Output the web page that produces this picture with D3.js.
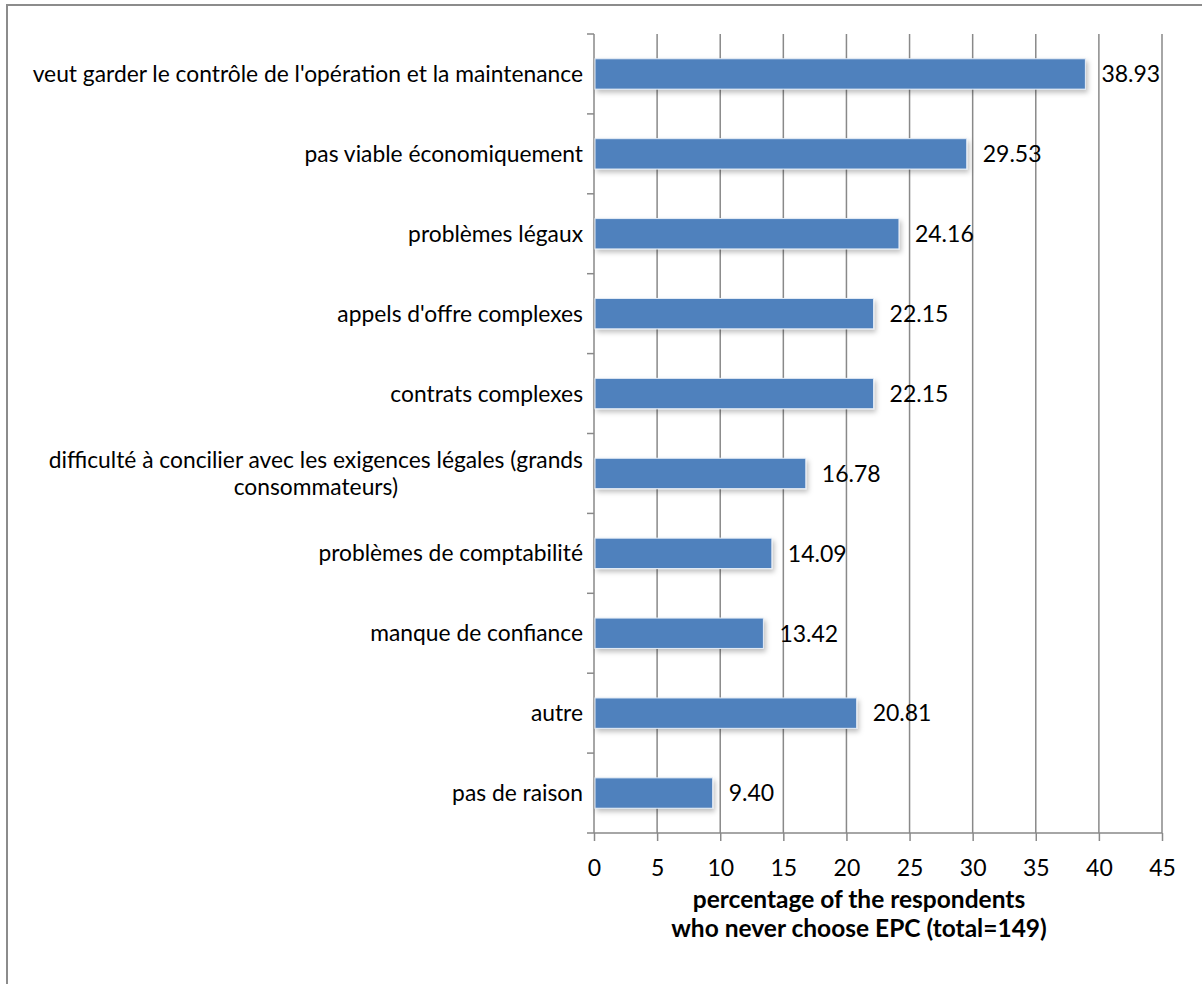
<!DOCTYPE html>
<html>
<head>
<meta charset="utf-8">
<script src="https://cdnjs.cloudflare.com/ajax/libs/d3/7.8.5/d3.min.js"></script>
<style>
  body { margin: 0; background: #fff; }
  svg { display: block; font-family: Lato, 'Open Sans', sans-serif; }
</style>
</head>
<body>
<svg width="1202" height="984"></svg>
<script>
// data
const categories = [
  "veut garder le contrôle de l'opération et la maintenance",
  'pas viable économiquement',
  'problèmes légaux',
  "appels d'offre complexes",
  'contrats complexes',
  'difficulté à concilier avec les exigences légales (grands consommateurs)',
  'problèmes de comptabilité',
  'manque de confiance',
  'autre',
  'pas de raison'
];
const values = [38.93, 29.53, 24.16, 22.15, 22.15, 16.78, 14.09, 13.42, 20.81, 9.40];
const xTicks = [0, 5, 10, 15, 20, 25, 30, 35, 40, 45];
const titleLines = ['percentage of the respondents', 'who never choose EPC (total=149)'];

const data = categories.map((c, i) => ({ cat: c, value: values[i] }));

const svg = d3.select('svg');
const GRID = '#898989';

// outer frame
svg.append('rect')
  .attr('x', 7).attr('y', 5)
  .attr('width', 1220).attr('height', 1000)
  .attr('fill', 'none')
  .attr('stroke', '#8c8c8c')
  .attr('stroke-width', 2);

const plot = { left: 594, right: 1162, top: 34, bottom: 833 };

const x = d3.scaleLinear().domain([0, 45]).range([plot.left, plot.right]);
const y = d3.scaleBand()
  .domain(categories)
  .range([plot.top, plot.bottom])
  .paddingInner(0.62)
  .paddingOuter(0.31);
const yTicks = d3.scaleBand().domain(categories).range([plot.top, plot.bottom]);

// shadow filter
const defs = svg.append('defs');
const f = defs.append('filter').attr('id', 'shadow')
  .attr('x', '-5%').attr('y', '-20%').attr('width', '115%').attr('height', '160%');
f.append('feDropShadow')
  .attr('dx', 2).attr('dy', 3).attr('stdDeviation', 2.5)
  .attr('flood-color', '#000').attr('flood-opacity', 0.25);

// vertical grid
svg.append('g')
  .selectAll('line')
  .data(xTicks.slice(1))
  .join('line')
  .attr('x1', (d) => x(d)).attr('x2', (d) => x(d))
  .attr('y1', plot.top).attr('y2', plot.bottom)
  .attr('stroke', GRID)
  .attr('stroke-width', 1.5);

// x axis
const xAxis = svg.append('g')
  .attr('transform', `translate(0, ${plot.bottom})`)
  .call(d3.axisBottom(x).tickValues(xTicks).tickSize(8).tickSizeOuter(0));
xAxis.select('.domain').remove();
xAxis.append('line')
  .attr('x1', plot.left - 7).attr('x2', plot.right)
  .attr('stroke', GRID).attr('stroke-width', 1.5);
xAxis.selectAll('.tick line').attr('stroke', GRID).attr('stroke-width', 1.5);
xAxis.selectAll('.tick text')
  .attr('fill', '#000')
  .attr('y', 35)
  .attr('dy', '0.35em')
  .style('font-size', '23px')
  .style('font-family', 'Lato, sans-serif');

// y axis line + ticks at band boundaries
const yAxis = svg.append('g');
yAxis.append('line')
  .attr('x1', plot.left).attr('x2', plot.left)
  .attr('y1', plot.top).attr('y2', plot.bottom)
  .attr('stroke', GRID).attr('stroke-width', 1.5);
yAxis.selectAll('.yt')
  .data(categories)
  .join('line')
  .attr('class', 'yt')
  .attr('x1', plot.left - 7).attr('x2', plot.left)
  .attr('y1', (d) => yTicks(d)).attr('y2', (d) => yTicks(d))
  .attr('stroke', GRID).attr('stroke-width', 1.5);

// bars
svg.append('g')
  .selectAll('rect')
  .data(data)
  .join('rect')
  .attr('x', x(0) + 1)
  .attr('y', (d) => y(d.cat))
  .attr('width', (d) => x(d.value) - x(0) - 1)
  .attr('height', y.bandwidth())
  .attr('fill', '#4f81bd')
  .attr('stroke', '#e4ecf6')
  .attr('stroke-width', 1)
  .attr('filter', 'url(#shadow)');

// value labels
svg.append('g')
  .selectAll('text')
  .data(data)
  .join('text')
  .attr('x', (d) => x(d.value) + 16)
  .attr('y', (d) => y(d.cat) + y.bandwidth() / 2)
  .attr('dy', '0.36em')
  .style('font-size', '23px')
  .attr('fill', '#000')
  .text((d) => d.value.toFixed(2));

// category labels (wrapped, centred block right-aligned to axis)
const labelRight = 583;
const maxW = 575;
const labels = svg.append('g').style('font-size', '22.8px').attr('fill', '#000');
data.forEach((d) => {
  const cy = yTicks(d.cat) + yTicks.bandwidth() / 2;
  const t = labels.append('text').attr('text-anchor', 'middle');
  const words = d.cat.split(' ');
  let lines = [];
  let line = [];
  const probe = t.append('tspan');
  words.forEach((w) => {
    line.push(w);
    probe.text(line.join(' '));
    if (probe.node().getComputedTextLength() > maxW && line.length > 1) {
      line.pop();
      lines.push(line.join(' '));
      line = [w];
    }
  });
  lines.push(line.join(' '));
  let widest = 0;
  lines.forEach((l) => {
    probe.text(l);
    widest = Math.max(widest, probe.node().getComputedTextLength());
  });
  probe.remove();
  const cx = labelRight - widest / 2;
  const lh = 27;
  lines.forEach((l, i) => {
    t.append('tspan')
      .attr('x', cx)
      .attr('y', cy + (i - (lines.length - 1) / 2) * lh)
      .attr('dy', '0.35em')
      .text(l);
  });
});

// axis title
svg.append('text')
  .attr('text-anchor', 'middle')
  .style('font-size', '24.5px')
  .style('font-weight', 'bold')
  .selectAll('tspan')
  .data(titleLines)
  .join('tspan')
  .attr('x', 859)
  .attr('y', (d, i) => 908 + i * 29)
  .text((d) => d);
</script>
</body>
</html>
